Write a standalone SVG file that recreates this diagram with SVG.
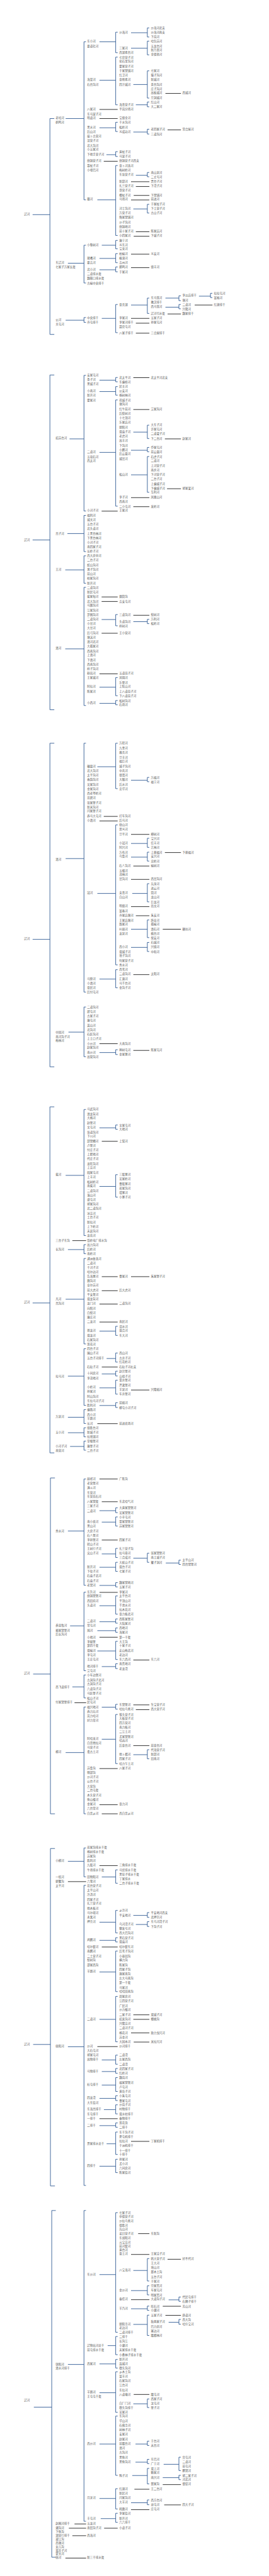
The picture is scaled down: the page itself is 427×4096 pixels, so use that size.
<svg xmlns="http://www.w3.org/2000/svg" width="427" height="4096" viewBox="0 0 427 4096">
<style>
text{font-family:"Noto Sans CJK SC","Noto Sans CJK JP",sans-serif;font-size:5.3px;fill:#555}
.b{stroke:#24508c;stroke-width:1;fill:none}
.k{stroke:#111;stroke-width:1;fill:none}
</style>
<rect width="427" height="4096" fill="#fff"/>
<g transform="scale(0.849)">
<g id="connectors">
<path class="b" d="M61 402H93.3M101.5 222H93.3V626.3H101.5M122.7 222H157M127 493H157M122.7 599.7H157M160.7 78.3H157V374.3H160.7M186 78.3H216.3M186 150.3H216.3M186 239.3H216.3M199 289.7H216.3M182 374.3H216.3M220 60.3H216.3V98.7H220M220 107H216.3V196.3H220M220 229H216.3V246.3H220M220 284H216.3V293H220M220 310H216.3V441H220M245 61.3H275.5M245 90.3H275.5M249.3 158.3H275.5M254 196.3H275.5M249.3 247.3H275.5M254 328.3H275.5M249.3 391.3H275.5M279 52.3H275.5V69.3H279M279 77H275.5V102.7H279M279 132.7H275.5V183.7H279M279 191H275.5V200H279M279 242H275.5V251H279M279 323H275.5V331H279M279 382.7H275.5V399H279M160.7 459.3H157V530H160.7M190.3 459.3H216.3M186 484H216.3M186 505.3H216.3M220 450.3H216.3V466H220M220 475H216.3V492H220M220 500H216.3V509H220M160.7 594.7H157V603.7H160.7M190.3 596.3H216.3M220 570.3H216.3V623H220M245 571.3H275.5M279 558.3H275.5V587H279M309.3 558.3H334.5M309.3 575.3H334.5M338 554H334.5V563H338M372 554.7H393.5M338 570.3H334.5V578.3H338M397 549.3H393.5V557.3H397"/>
<path class="k" d="M186 205H220M186 222H220M194 302H220M245 340.3H279.3M254 349.3H279.3M250 366H279.3M245 374.5H279.3M254 434H279.3M250 442.5H279.3M309.3 175H338.3M313.3 243.3H338.3M245 476H279.3M245 501.3H279.3M245 596.3H279.3M254 605.3H279.3M254 624H279.3M313.3 588H338.3M364 571.3H397.3"/>
<path class="b" d="M61 1011.3H93.3M101.5 702.3H93.3V1329.3H101.5M130 822H157M126 999.3H157M122 1067.3H157M122 1215.3H157M160.7 703H157V957H160.7M160.7 965.3H157V1033H160.7M160.7 1041H157V1092.3H160.7M160.7 1100H157V1321.3H160.7M186 712H216.3M186 733.3H216.3M186 847.3H216.3M190 1160.3H216.3M186 1287H216.3M186 1317.3H216.3M220 707H216.3V715H220M220 724H216.3V740H220M220 749H216.3V948H220M220 1151H216.3V1172H220M220 1269H216.3V1303H220M220 1312H216.3V1320H220M249.3 809.3H275.5M245 843.3H275.5M245 889.3H275.5M249.3 1164.3H275.5M279 796.3H275.5V821.3H279M279 838H275.5V846H279M279 855H275.5V922H279M279 1160H275.5V1168H279"/>
<path class="k" d="M190 957.3H220M190 1118H220M190 1126.5H220M190 1186H220M186 1262H220M249.3 707.3H279.3M249.3 767H279.3M245 932H279.3M249.3 949H279.3M249.3 1152.3H279.3M308.3 822H338.3M312.3 915.3H338.3"/>
<path class="b" d="M61 1759.3H93.3M101.5 1392H93.3V1998H101.5M122.7 1608H157M128 1933H157M160.7 1392H157V1858H160.7M160.7 1886H157V1979H160.7M182 1436H216.3M182 1673.3H216.3M186 1833.7H216.3M186 1971.3H216.3M220 1392H216.3V1477H220M220 1545H216.3V1807H220M220 1816H216.3V1850H220M220 1966H216.3V1975H220M245 1461.3H275.5M245 1579.7H275.5M245 1605.3H275.5M247.3 1673.3H275.5M245 1740.3H275.5M245 1774.3H275.5M279 1456H275.5V1464H279M279 1570H275.5V1587H279M279 1596H275.5V1612.7H279M279 1655H275.5V1689H279M279 1723H275.5V1756H279M279 1765H275.5V1782H279"/>
<path class="k" d="M194 1529H220M186 1537.5H220M186 1954.7H220M245 1562.7H279.3M249.3 1622H279.3M245 1647H279.3M245 1698H279.3M254 1715H279.3M249.3 1825.3H279.3M249.3 1967.3H279.3M308.3 1596.7H338.3M304.3 1740.3H338.3"/>
<path class="b" d="M61 2440.3H93.3M101.5 2073H93.3V2721H101.5M122.7 2201.3H157M127 2340.3H157M122.7 2433.3H157M127 2577.3H157M127 2654.3H157M127 2683.3H157M131 2709H157M160.7 2078H157V2314H160.7M160.7 2331H157V2348H160.7M160.7 2357H157V2517H160.7M160.7 2526H157V2632H160.7M160.7 2640H157V2666H160.7M160.7 2674H157V2691H160.7M160.7 2699H157V2716H160.7M186 2112.3H216.3M186 2222H216.3M186 2493H216.3M199.3 2544.3H216.3M190.3 2573.3H216.3M186 2599.3H216.3M186 2632.3H216.3M220 2107H216.3V2115H220M220 2200H216.3V2242H220M220 2484H216.3V2501H220M220 2534H216.3V2551H220M220 2568H216.3V2577H220M220 2585H216.3V2611H220M220 2627H216.3V2636H220"/>
<path class="k" d="M135.3 2323.5H161M190.3 2137.5H220M190.3 2391H220M190.3 2417.3H220M186 2442.3H220M186 2476H220M190.3 2560.3H220M182 2666.3H220M245 2391H279.3M245 2603.3H279.3"/>
<path class="b" d="M62 3135.3H94.3M102.7 2768H94.3V3397H102.7M127 2867.3H157M131 3045H157M135.3 3159.3H157M122.7 3282.3H157M160.7 2770H157V2969H160.7M160.7 2982H157V3129H160.7M160.7 3137H157V3180H160.7M160.7 3197H157V3397H160.7M186 2829.3H216.3M190.3 2850.7H216.3M190.3 2910.3H216.3M186 2935.3H216.3M186 2969.3H216.3M186 3007.3H216.3M186 3037.3H216.3M182 3054H216.3M182 3092H216.3M190.3 3121.3H216.3M190.3 3197.3H216.3M190.3 3257.3H216.3M220 2824H216.3V2833H220M220 2841H216.3V2858H220M220 2900H216.3V2917H220M220 2926H216.3V2943H220M220 2964H216.3V2972H220M220 2989H216.3V3023H220M220 3032H216.3V3040H220M220 3049H216.3V3057H220M220 3074H216.3V3108H220M220 3116H216.3V3125H220M220 3192H216.3V3201H220M220 3211H216.3V3303H220M249.3 2918.3H275.5M249.3 3286.3H275.5M279 2909H275.5V2926H279M279 3277H275.5V3294H279M310 2927.3H334.5M338 2922H334.5V2930H338"/>
<path class="k" d="M139.3 3189H161M186 2770H220M190.3 2812.5H220M190.3 2884.3H220M186 2982.3H220M186 3066.3H220M186 3312.3H220M186 3380H220M190.3 3397H220M249.3 3109H279.3M249.3 3193H279.3M254 3202H279.3M249.3 3269.3H279.3"/>
<path class="b" d="M62 3829H94.3M102.7 3462H94.3V4094H102.7M127 3486H157M127 3833.3H157M160.7 3461H157V3515H160.7M160.7 3531H157V4093H160.7M190.3 3515.3H216.3M186 3600H216.3M186 3634H216.3M186 3693.3H216.3M186 3782H216.3M190.3 3858H216.3M190.3 3879.7H216.3M190.3 3905H216.3M186 3930H216.3M194.3 3951H216.3M186 3981H216.3M199.3 4015H216.3M186 4057H216.3M220 3502H216.3V3527H220M220 3578H216.3V3620H220M220 3629H216.3V3637H220M220 3654H216.3V3730H220M220 3739H216.3V3824H220M220 3849H216.3V3866H220M220 3874H216.3V3883H220M220 3891H216.3V3917H220M220 3925H216.3V3934H220M220 3942H216.3V3959H220M220 3976H216.3V3984H220M220 3993H216.3V4035H220M220 4044H216.3V4069H220M249.3 3587.3H275.5M254 3604.3H275.5M279 3582H275.5V3591H279M279 3599H275.5V3608H279"/>
<path class="k" d="M127 3524H161M186 3494H220M190.3 3646.5H220M182 3833H220M186 3968H220M249.3 3773.5H279.3M249.3 3782H279.3M245 3807.3H279.3M250 3824.5H279.3M245 4010.5H279.3"/>
<path class="b" d="M63.3 4508.3H96.7M104.3 4140H96.7V4789.3H104.3M127 4428.3H157M160.7 4140H157V4722H160.7M186 4260H216.3M201.3 4393H216.3M186 4427.3H216.3M186 4481.3H216.3M186 4577.3H216.3M186 4679.3H216.3M188.3 4717H216.3M220 4144H216.3V4368H220M220 4376H216.3V4410H220M220 4419H216.3V4435H220M220 4442H216.3V4518H220M220 4525H216.3V4636H220M220 4661H216.3V4699H220M220 4707H216.3V4724H220M249.3 4252.3H275.5M245 4290H275.5M245 4324H275.5M249.3 4353.3H275.5M249.3 4502H275.5M253.3 4577.3H275.5M253.3 4611.3H275.5M247.3 4636.3H275.5M245 4687.3H275.5M279 4230H275.5V4272H279M279 4281H275.5V4298H279M279 4319H275.5V4327H279M279 4336H275.5V4374H279M279 4493H275.5V4509H279M279 4572H275.5V4580H279M279 4606H275.5V4614H279M279 4623H275.5V4652H279M279 4682H275.5V4691H279M315.3 4307.3H334.5M315.3 4349.3H334.5M306 4615.3H334.5M304.3 4640.3H334.5M338 4302H334.5V4310H338M338 4344H334.5V4353H338M338 4602H334.5V4627H338M338 4636H334.5V4644H338"/>
<path class="k" d="M139.3 4727H161M128.7 4735H161M194.7 4735H220M135.3 4749H161M122.3 4791H161M258.3 4183.3H279.3M245 4222.3H279.3M245 4307H279.3M250 4484.5H279.3M251.3 4662H279.3M245 4700.3H279.3M313.3 4231.3H338.3M304.3 4319.3H338.3M309.3 4336.3H338.3M304.3 4653.3H338.3M307 4691.3H338.3"/>
</g>
<g id="nodes">
<g id="t0_403"><text x="45" y="403">辽河</text></g>
<g id="t1_223"><text x="104" y="223">老哈河</text></g>
<g id="t1_231"><text x="104" y="231">鹤鸣河</text></g>
<g id="t1_494"><text x="104" y="494">东辽河</text></g>
<g id="t1_502"><text x="104" y="502">七家子万家长渠</text></g>
<g id="t1_601"><text x="104" y="601">公河</text></g>
<g id="t1_609"><text x="104" y="609">关屯河</text></g>
<g id="t2_79"><text x="163" y="79.3">东小河</text></g>
<g id="t2_88"><text x="163" y="88">要道社河</text></g>
<g id="t2_151"><text x="163" y="151">海棠河</text></g>
<g id="t2_160"><text x="163" y="160">石台沟河</text></g>
<g id="t2_206"><text x="163" y="206">八家河</text></g>
<g id="t2_215"><text x="163" y="215">东马架子河</text></g>
<g id="t2_223"><text x="163" y="223">明道河</text></g>
<g id="t2_240"><text x="163" y="240">黑水河</text></g>
<g id="t2_248"><text x="163" y="248">后山河</text></g>
<g id="t2_257"><text x="163" y="257">接卜古营河</text></g>
<g id="t2_265"><text x="163" y="265">深营子河</text></g>
<g id="t2_274"><text x="163" y="274">北大沟河</text></g>
<g id="t2_282"><text x="163" y="282">小五家河</text></g>
<g id="t2_291"><text x="163" y="291">下地手营子河</text></g>
<g id="t2_303"><text x="163" y="303">烧锅营子河</text></g>
<g id="t2_312"><text x="163" y="312">靠杖子河</text></g>
<g id="t2_320"><text x="163" y="320">小哑巴河</text></g>
<g id="t2_375"><text x="163" y="375">瓣河</text></g>
<g id="t2_460"><text x="163" y="460">小黎树河</text></g>
<g id="t2_485"><text x="163" y="485">猪嘴河</text></g>
<g id="t2_494"><text x="163" y="494">要吉河</text></g>
<g id="t2_507"><text x="163" y="507">北小河</text></g>
<g id="t2_515"><text x="163" y="515">二道排水渠</text></g>
<g id="t2_523"><text x="163" y="523">魏鞍口排水渠</text></g>
<g id="t2_532"><text x="163" y="532">古榆中央排干</text></g>
<g id="t2_597"><text x="163" y="596.7">中央排干</text></g>
<g id="t2_606"><text x="163" y="605.7">齐屯排干</text></g>
<g id="t3_62"><text x="223" y="62.3">沙海河</text></g>
<g id="t3_92"><text x="223" y="92">三家河</text></g>
<g id="t3_100"><text x="223" y="100">西湖素台河</text></g>
<g id="t3_109"><text x="223" y="109">七官营子河</text></g>
<g id="t3_117"><text x="223" y="117">化石里沟河</text></g>
<g id="t3_126"><text x="223" y="126">霍家营子河</text></g>
<g id="t3_134"><text x="223" y="134">于家窝铺河</text></g>
<g id="t3_143"><text x="223" y="142.7">红卫河</text></g>
<g id="t3_151"><text x="223" y="151">查他素河</text></g>
<g id="t3_160"><text x="223" y="160">四汗城河</text></g>
<g id="t3_198"><text x="223" y="198">海青营子河</text></g>
<g id="t3_206"><text x="223" y="206">平岗分场河</text></g>
<g id="t3_223"><text x="223" y="223">宝德全河</text></g>
<g id="t3_231"><text x="223" y="231">干水沟河</text></g>
<g id="t3_240"><text x="223" y="240">松岭河</text></g>
<g id="t3_248"><text x="223" y="248">义成功河</text></g>
<g id="t3_286"><text x="223" y="286">黄杖子河</text></g>
<g id="t3_295"><text x="223" y="295">马架子河</text></g>
<g id="t3_303"><text x="223" y="303">烧锅营子河西支</text></g>
<g id="t3_312"><text x="223" y="312">查卜河洛河</text></g>
<g id="t3_320"><text x="223" y="320">梅树岭河</text></g>
<g id="t3_329"><text x="223" y="329">东张营子河</text></g>
<g id="t3_342"><text x="223" y="342">新邱河</text></g>
<g id="t3_350"><text x="223" y="350">扎兰营子河</text></g>
<g id="t3_358"><text x="223" y="358">哥营子河</text></g>
<g id="t3_367"><text x="223" y="367">樱杖子河</text></g>
<g id="t3_375"><text x="223" y="375">马场河</text></g>
<g id="t3_392"><text x="223" y="392">河士沟河</text></g>
<g id="t3_401"><text x="223" y="401">万营子河</text></g>
<g id="t3_409"><text x="223" y="409">隋家窝铺河</text></g>
<g id="t3_418"><text x="223" y="418">沙子沟河</text></g>
<g id="t3_426"><text x="223" y="426">烧锅地河</text></g>
<g id="t3_435"><text x="223" y="435">前十家子河</text></g>
<g id="t3_443"><text x="223" y="443">小四家河</text></g>
<g id="t3_452"><text x="223" y="452.3">康宁河</text></g>
<g id="t3_460"><text x="223" y="460">义东河</text></g>
<g id="t3_468"><text x="223" y="468">宝来河</text></g>
<g id="t3_477"><text x="223" y="477">柏榆河</text></g>
<g id="t3_485"><text x="223" y="485">植漠河</text></g>
<g id="t3_494"><text x="223" y="494">吉州河</text></g>
<g id="t3_502"><text x="223" y="502">鹅鸣河</text></g>
<g id="t3_511"><text x="223" y="511">于家河</text></g>
<g id="t3_572"><text x="223" y="572.3">亚克湖</text></g>
<g id="t3_597"><text x="223" y="597.3">李家河</text></g>
<g id="t3_606"><text x="223" y="606">李家河排干</text></g>
<g id="t3_614"><text x="223" y="614">聂官屯河</text></g>
<g id="t3_625"><text x="223" y="625">八家子排干</text></g>
<g id="t4_54"><text x="282" y="54.3">沙海河北支</text></g>
<g id="t4_62"><text x="282" y="62.3">沙海河南支</text></g>
<g id="t4_71"><text x="282" y="71">下岗河</text></g>
<g id="t4_79"><text x="282" y="79">哈包苏河</text></g>
<g id="t4_88"><text x="282" y="88">五龙台河</text></g>
<g id="t4_96"><text x="282" y="96">新乃里河</text></g>
<g id="t4_104"><text x="282" y="104">全德艳河</text></g>
<g id="t4_134"><text x="282" y="134">七家河</text></g>
<g id="t4_143"><text x="282" y="143">猫子沟河</text></g>
<g id="t4_151"><text x="282" y="151">新城河</text></g>
<g id="t4_160"><text x="282" y="160">茶台沟河</text></g>
<g id="t4_168"><text x="282" y="168">庄子沟河</text></g>
<g id="t4_176"><text x="282" y="176">高板城河</text></g>
<g id="t4_185"><text x="282" y="185">旦洞城河</text></g>
<g id="t4_193"><text x="282" y="193">红山河</text></g>
<g id="t4_202"><text x="282" y="202">大二家河</text></g>
<g id="t4_244"><text x="282" y="244">老四家子河</text></g>
<g id="t4_253"><text x="282" y="253">三道沟河</text></g>
<g id="t4_325"><text x="282" y="325">南山泉河</text></g>
<g id="t4_333"><text x="282" y="333">二丈号河</text></g>
<g id="t4_342"><text x="282" y="342">贾台子河</text></g>
<g id="t4_350"><text x="282" y="350">下湾子河</text></g>
<g id="t4_367"><text x="282" y="367">下窝铺河</text></g>
<g id="t4_375"><text x="282" y="375">前进河</text></g>
<g id="t4_384"><text x="282" y="384">于家杖子河</text></g>
<g id="t4_392"><text x="282" y="392">下土营子河</text></g>
<g id="t4_401"><text x="282" y="401">古山子河</text></g>
<g id="t4_435"><text x="282" y="435">陈家店河</text></g>
<g id="t4_443"><text x="282" y="443">下城子河</text></g>
<g id="t4_477"><text x="282" y="477">义安河</text></g>
<g id="t4_502"><text x="282" y="502">德丰河</text></g>
<g id="t4_559"><text x="282" y="559.3">东马莲河</text></g>
<g id="t4_568"><text x="282" y="568">教汉排干</text></g>
<g id="t4_576"><text x="282" y="576">西马莲河</text></g>
<g id="t4_589"><text x="282" y="589">辽河引水渠</text></g>
<g id="t4_597"><text x="282" y="597.3">五家子河</text></g>
<g id="t4_606"><text x="282" y="606">孙家屯河</text></g>
<g id="t4_625"><text x="282" y="625">三合屋排干</text></g>
<g id="t5_176"><text x="341" y="176">西城河</text></g>
<g id="t5_244"><text x="341" y="244">常合屋河</text></g>
<g id="t5_555"><text x="341" y="555">李瓜店排干</text></g>
<g id="t5_564"><text x="341" y="564.3">塘河</text></g>
<g id="t5_572"><text x="341" y="572.3">二道河</text></g>
<g id="t5_580"><text x="341" y="580.3">兴隆河</text></g>
<g id="t5_589"><text x="341" y="589">魏家排干</text></g>
<g id="t6_551"><text x="400" y="551.3">拉拉屯河</text></g>
<g id="t6_559"><text x="400" y="559.3">富裕河</text></g>
<g id="t6_572"><text x="400" y="572.3">红旗排干</text></g>

<g id="t0_1013"><text x="45" y="1013">辽河</text></g>
<g id="t1_822"><text x="104" y="822">招苏台河</text></g>
<g id="t1_1001"><text x="104" y="1001">亮子河</text></g>
<g id="t1_1068"><text x="104" y="1068">王河</text></g>
<g id="t1_1216"><text x="104" y="1216">清河</text></g>
<g id="t2_704"><text x="163" y="704">安家屯河</text></g>
<g id="t2_713"><text x="163" y="713">条子河</text></g>
<g id="t2_721"><text x="163" y="721">黑城子河</text></g>
<g id="t2_734"><text x="163" y="734">小南河</text></g>
<g id="t2_742"><text x="163" y="742">新开河</text></g>
<g id="t2_751"><text x="163" y="751">霍家河</text></g>
<g id="t2_848"><text x="163" y="848">二道河</text></g>
<g id="t2_857"><text x="163" y="857">五块石河</text></g>
<g id="t2_865"><text x="163" y="865">西太河</text></g>
<g id="t2_958"><text x="163" y="958">小河子河</text></g>
<g id="t2_967"><text x="163" y="967">福利河</text></g>
<g id="t2_975"><text x="163" y="975">城关河</text></g>
<g id="t2_984"><text x="163" y="984">五台子河</text></g>
<g id="t2_992"><text x="163" y="992">北头道河</text></g>
<g id="t2_1001"><text x="163" y="1001">上黑台林河</text></g>
<g id="t2_1009"><text x="163" y="1009">下黑台林河</text></g>
<g id="t2_1018"><text x="163" y="1018">小河子河</text></g>
<g id="t2_1026"><text x="163" y="1026">南四家子河</text></g>
<g id="t2_1034"><text x="163" y="1034">长岭子河</text></g>
<g id="t2_1043"><text x="163" y="1043">西大房申河</text></g>
<g id="t2_1051"><text x="163" y="1051">二台子河</text></g>
<g id="t2_1060"><text x="163" y="1060">蛇山沟河</text></g>
<g id="t2_1068"><text x="163" y="1068">葱子沟河</text></g>
<g id="t2_1077"><text x="163" y="1077">前山河</text></g>
<g id="t2_1085"><text x="163" y="1085">柏家沟河</text></g>
<g id="t2_1094"><text x="163" y="1094">新开河</text></g>
<g id="t2_1102"><text x="163" y="1102">二道沟河</text></g>
<g id="t2_1111"><text x="163" y="1111">新民屯河</text></g>
<g id="t2_1119"><text x="163" y="1119">柴家甸河</text></g>
<g id="t2_1128"><text x="163" y="1128">北大沟河</text></g>
<g id="t2_1136"><text x="163" y="1136">马鹿沟河</text></g>
<g id="t2_1145"><text x="163" y="1145">江家沟河</text></g>
<g id="t2_1153"><text x="163" y="1153">罗圈沟河</text></g>
<g id="t2_1161"><text x="163" y="1161">二道沟河</text></g>
<g id="t2_1170"><text x="163" y="1170">小甘河</text></g>
<g id="t2_1178"><text x="163" y="1178">大甘河</text></g>
<g id="t2_1187"><text x="163" y="1187">后弓沟河</text></g>
<g id="t2_1195"><text x="163" y="1195">塘沃河</text></g>
<g id="t2_1204"><text x="163" y="1204">清河北河</text></g>
<g id="t2_1212"><text x="163" y="1212">大孤家河</text></g>
<g id="t2_1221"><text x="163" y="1221">西南沟河</text></g>
<g id="t2_1229"><text x="163" y="1229">上清河</text></g>
<g id="t2_1238"><text x="163" y="1238">下清河</text></g>
<g id="t2_1246"><text x="163" y="1246">西南沟河</text></g>
<g id="t2_1255"><text x="163" y="1255">样子沟河</text></g>
<g id="t2_1263"><text x="163" y="1263">粉岗河</text></g>
<g id="t2_1271"><text x="163" y="1271">王家城河</text></g>
<g id="t2_1288"><text x="163" y="1288">阿拉河</text></g>
<g id="t2_1297"><text x="163" y="1297">陈家河</text></g>
<g id="t2_1318"><text x="163" y="1318">小西河</text></g>
<g id="t3_709"><text x="223" y="709">北太平河</text></g>
<g id="t3_717"><text x="223" y="717">东偏桥河</text></g>
<g id="t3_726"><text x="223" y="726">民主河</text></g>
<g id="t3_734"><text x="223" y="734">公安河</text></g>
<g id="t3_742"><text x="223" y="742">杨树林河</text></g>
<g id="t3_751"><text x="223" y="751">荷城子河</text></g>
<g id="t3_759"><text x="223" y="759">塘沟河</text></g>
<g id="t3_768"><text x="223" y="768">红牛前河</text></g>
<g id="t3_776"><text x="223" y="776">后梨树河</text></g>
<g id="t3_785"><text x="223" y="785">十七顶河</text></g>
<g id="t3_793"><text x="223" y="793">乐家店河</text></g>
<g id="t3_802"><text x="223" y="802">朝阳河</text></g>
<g id="t3_810"><text x="223" y="810">双庙子河</text></g>
<g id="t3_819"><text x="223" y="819">老虎河</text></g>
<g id="t3_827"><text x="223" y="827">高丰河</text></g>
<g id="t3_836"><text x="223" y="836">下沟河</text></g>
<g id="t3_844"><text x="223" y="844">小鹏河</text></g>
<g id="t3_852"><text x="223" y="852">后云盘河</text></g>
<g id="t3_861"><text x="223" y="861">城岔河</text></g>
<g id="t3_891"><text x="223" y="891">松山河</text></g>
<g id="t3_933"><text x="223" y="933">李子河</text></g>
<g id="t3_941"><text x="223" y="941">西南河</text></g>
<g id="t3_950"><text x="223" y="950">二小屯河</text></g>
<g id="t3_958"><text x="223" y="958">王家河</text></g>
<g id="t3_1119"><text x="223" y="1119">烟筒沟</text></g>
<g id="t3_1128"><text x="223" y="1128">吉安屯河</text></g>
<g id="t3_1153"><text x="223" y="1153">三道沟河</text></g>
<g id="t3_1166"><text x="223" y="1166">头道沟河</text></g>
<g id="t3_1174"><text x="223" y="1174">样树河</text></g>
<g id="t3_1187"><text x="223" y="1187">王小营河</text></g>
<g id="t3_1263"><text x="223" y="1263">五道岗子河</text></g>
<g id="t3_1271"><text x="223" y="1271">凤翔河</text></g>
<g id="t3_1280"><text x="223" y="1280">乐堡河</text></g>
<g id="t3_1288"><text x="223" y="1288">上陀山河</text></g>
<g id="t3_1297"><text x="223" y="1297">上八道岗子河</text></g>
<g id="t3_1305"><text x="223" y="1305">下八道岗子河</text></g>
<g id="t3_1314"><text x="223" y="1314">松树沟河</text></g>
<g id="t3_1322"><text x="223" y="1322">石场河</text></g>
<g id="t4_709"><text x="282" y="709">北太平河北支</text></g>
<g id="t4_768"><text x="282" y="768">艾家沟河</text></g>
<g id="t4_797"><text x="282" y="797">大东子河</text></g>
<g id="t4_806"><text x="282" y="806">许家屯河</text></g>
<g id="t4_814"><text x="282" y="814">二道梁子河</text></g>
<g id="t4_823"><text x="282" y="823">下二台河</text></g>
<g id="t4_840"><text x="282" y="840">乔家屯河</text></g>
<g id="t4_848"><text x="282" y="848">前云盘河</text></g>
<g id="t4_857"><text x="282" y="857">石虎子河</text></g>
<g id="t4_865"><text x="282" y="865">二道河</text></g>
<g id="t4_874"><text x="282" y="874">上河营子河</text></g>
<g id="t4_882"><text x="282" y="882">南步河</text></g>
<g id="t4_891"><text x="282" y="891">下河营子河</text></g>
<g id="t4_899"><text x="282" y="899">二台子河</text></g>
<g id="t4_908"><text x="282" y="908">上偏城子河</text></g>
<g id="t4_916"><text x="282" y="916">下偏城子河</text></g>
<g id="t4_924"><text x="282" y="924">互利河</text></g>
<g id="t4_933"><text x="282" y="933">凤凰山河</text></g>
<g id="t4_950"><text x="282" y="950">发岭河</text></g>
<g id="t4_1153"><text x="282" y="1153">梨树河</text></g>
<g id="t4_1161"><text x="282" y="1161">万利河</text></g>
<g id="t4_1170"><text x="282" y="1170">松岭河</text></g>
<g id="t5_823"><text x="341" y="823">赵家河</text></g>
<g id="t5_916"><text x="341" y="916">郭家梁河</text></g>

<g id="t0_1760"><text x="45" y="1760">辽河</text></g>
<g id="t1_1611"><text x="104" y="1611">清河</text></g>
<g id="t1_1935"><text x="104" y="1935">中固河</text></g>
<g id="t1_1943"><text x="104" y="1943">南河沟子河</text></g>
<g id="t1_1951"><text x="104" y="1951">梅林河</text></g>
<g id="t2_1437"><text x="163" y="1437">碾盘河</text></g>
<g id="t2_1445"><text x="163" y="1445">北大沟河</text></g>
<g id="t2_1454"><text x="163" y="1454">太平沟河</text></g>
<g id="t2_1462"><text x="163" y="1462">春韵沟河</text></g>
<g id="t2_1471"><text x="163" y="1471">吴家沟河</text></g>
<g id="t2_1479"><text x="163" y="1479">金家沟河</text></g>
<g id="t2_1488"><text x="163" y="1488">西老爷岭河</text></g>
<g id="t2_1496"><text x="163" y="1496">苔碧河</text></g>
<g id="t2_1505"><text x="163" y="1505">张家堡子河</text></g>
<g id="t2_1513"><text x="163" y="1513">新米沟河</text></g>
<g id="t2_1521"><text x="163" y="1521">闫家堡子河</text></g>
<g id="t2_1530"><text x="163" y="1530">养马大屯河</text></g>
<g id="t2_1538"><text x="163" y="1538">小清河</text></g>
<g id="t2_1674"><text x="163" y="1674">寇河</text></g>
<g id="t2_1835"><text x="163" y="1835">马脖河</text></g>
<g id="t2_1843"><text x="163" y="1843">小清河</text></g>
<g id="t2_1852"><text x="163" y="1852">亚民河</text></g>
<g id="t2_1860"><text x="163" y="1860">后付屯河</text></g>
<g id="t2_1888"><text x="163" y="1888">二道沟河</text></g>
<g id="t2_1896"><text x="163" y="1896">郎屯河</text></g>
<g id="t2_1905"><text x="163" y="1905">古家子河</text></g>
<g id="t2_1913"><text x="163" y="1913">康屯河</text></g>
<g id="t2_1922"><text x="163" y="1922">英山河</text></g>
<g id="t2_1930"><text x="163" y="1930">北沟河</text></g>
<g id="t2_1939"><text x="163" y="1939">石匠沟河</text></g>
<g id="t2_1947"><text x="163" y="1947">上土口子河</text></g>
<g id="t2_1956"><text x="163" y="1956">小沙河</text></g>
<g id="t2_1964"><text x="163" y="1964">赵家沟河</text></g>
<g id="t2_1973"><text x="163" y="1973">南沙河</text></g>
<g id="t2_1981"><text x="163" y="1981">高管沟河</text></g>
<g id="t3_1394"><text x="223" y="1394">万积河</text></g>
<g id="t3_1403"><text x="223" y="1403">九奎河</text></g>
<g id="t3_1411"><text x="223" y="1411">雅克河</text></g>
<g id="t3_1420"><text x="223" y="1420">旦丰河</text></g>
<g id="t3_1428"><text x="223" y="1428">福巨河</text></g>
<g id="t3_1437"><text x="223" y="1437">城子沟河</text></g>
<g id="t3_1445"><text x="223" y="1445">中宾河</text></g>
<g id="t3_1454"><text x="223" y="1454">德贤河</text></g>
<g id="t3_1462"><text x="223" y="1462">大眼河</text></g>
<g id="t3_1471"><text x="223" y="1471">后水河</text></g>
<g id="t3_1479"><text x="223" y="1479">忠华河</text></g>
<g id="t3_1530"><text x="223" y="1530">打车沟河</text></g>
<g id="t3_1538"><text x="223" y="1538">后马河</text></g>
<g id="t3_1547"><text x="223" y="1547">绕山河</text></g>
<g id="t3_1555"><text x="223" y="1555">思义河</text></g>
<g id="t3_1564"><text x="223" y="1564">旦平河</text></g>
<g id="t3_1581"><text x="223" y="1581">小寇河</text></g>
<g id="t3_1589"><text x="223" y="1589">阿兴河</text></g>
<g id="t3_1598"><text x="223" y="1598">万有河</text></g>
<g id="t3_1606"><text x="223" y="1606">乌鲁河</text></g>
<g id="t3_1623"><text x="223" y="1623">石人沟河</text></g>
<g id="t3_1632"><text x="223" y="1632">五楼河</text></g>
<g id="t3_1640"><text x="223" y="1640">茂林河</text></g>
<g id="t3_1648"><text x="223" y="1648">岔沟河</text></g>
<g id="t3_1674"><text x="223" y="1674">支青河</text></g>
<g id="t3_1682"><text x="223" y="1682">白山河</text></g>
<g id="t3_1699"><text x="223" y="1699">明德河</text></g>
<g id="t3_1708"><text x="223" y="1708">富春河</text></g>
<g id="t3_1716"><text x="223" y="1716">齐家店塘河</text></g>
<g id="t3_1725"><text x="223" y="1725">王家店塘河</text></g>
<g id="t3_1733"><text x="223" y="1733">路家河</text></g>
<g id="t3_1742"><text x="223" y="1742">叶赫河</text></g>
<g id="t3_1750"><text x="223" y="1750">龙泉河</text></g>
<g id="t3_1775"><text x="223" y="1775">西小河</text></g>
<g id="t3_1784"><text x="223" y="1784">双城子河</text></g>
<g id="t3_1792"><text x="223" y="1792">塔子沟河</text></g>
<g id="t3_1801"><text x="223" y="1801">何家营子河</text></g>
<g id="t3_1809"><text x="223" y="1809">秀水河</text></g>
<g id="t3_1818"><text x="223" y="1818">西苇河</text></g>
<g id="t3_1826"><text x="223" y="1826">二道沟河</text></g>
<g id="t3_1835"><text x="223" y="1835">汇源河</text></g>
<g id="t3_1843"><text x="223" y="1843">马千台河</text></g>
<g id="t3_1852"><text x="223" y="1852">金沟子河</text></g>
<g id="t3_1956"><text x="223" y="1956">大南沟河</text></g>
<g id="t3_1968"><text x="223" y="1968">神树屯河</text></g>
<g id="t3_1977"><text x="223" y="1977">金家寨河</text></g>
<g id="t4_1458"><text x="282" y="1458">万福河</text></g>
<g id="t4_1466"><text x="282" y="1466">福宁河</text></g>
<g id="t4_1564"><text x="282" y="1564">柳树河</text></g>
<g id="t4_1572"><text x="282" y="1572">宝兴河</text></g>
<g id="t4_1581"><text x="282" y="1581">信丰河</text></g>
<g id="t4_1589"><text x="282" y="1589">艺林河</text></g>
<g id="t4_1598"><text x="282" y="1598">上册福河</text></g>
<g id="t4_1606"><text x="282" y="1606">安兴河</text></g>
<g id="t4_1615"><text x="282" y="1615">忠岭河</text></g>
<g id="t4_1623"><text x="282" y="1623">榆树河</text></g>
<g id="t4_1648"><text x="282" y="1648">西岔沟河</text></g>
<g id="t4_1657"><text x="282" y="1657">兵身河</text></g>
<g id="t4_1665"><text x="282" y="1665">进云河</text></g>
<g id="t4_1674"><text x="282" y="1674">筒河</text></g>
<g id="t4_1682"><text x="282" y="1682">龙山河</text></g>
<g id="t4_1691"><text x="282" y="1691">巨龙河</text></g>
<g id="t4_1699"><text x="282" y="1699">尚文河</text></g>
<g id="t4_1716"><text x="282" y="1716">朱安河</text></g>
<g id="t4_1725"><text x="282" y="1725">跃业河</text></g>
<g id="t4_1733"><text x="282" y="1733">孤榆河</text></g>
<g id="t4_1742"><text x="282" y="1742">清石河</text></g>
<g id="t4_1750"><text x="282" y="1750">桃台河</text></g>
<g id="t4_1758"><text x="282" y="1758">保安河</text></g>
<g id="t4_1767"><text x="282" y="1767">石城河</text></g>
<g id="t4_1775"><text x="282" y="1775">兴德河</text></g>
<g id="t4_1784"><text x="282" y="1784">中和河</text></g>
<g id="t4_1826"><text x="282" y="1826">太阳河</text></g>
<g id="t4_1968"><text x="282" y="1968">陈家屯河</text></g>
<g id="t5_1598"><text x="341" y="1598">下册福河</text></g>
<g id="t5_1742"><text x="341" y="1742">糖坊河</text></g>

<g id="t0_2441"><text x="45" y="2441">辽河</text></g>
<g id="t1_2202"><text x="104" y="2202">柴河</text></g>
<g id="t1_2325"><text x="104" y="2325">三台子东沟</text></g>
<g id="t1_2342"><text x="104" y="2342">长沟河</text></g>
<g id="t1_2435"><text x="104" y="2435">凡河</text></g>
<g id="t1_2443"><text x="104" y="2443">亮沟河</text></g>
<g id="t1_2579"><text x="104" y="2579">拉马河</text></g>
<g id="t1_2655"><text x="104" y="2655">万泉河</text></g>
<g id="t1_2684"><text x="104" y="2684">五小河</text></g>
<g id="t1_2710"><text x="104" y="2710">小河子河</text></g>
<g id="t1_2718"><text x="104" y="2718">南营河</text></g>
<g id="t2_2079"><text x="163" y="2079">马武沟河</text></g>
<g id="t2_2088"><text x="163" y="2088">清龙背河</text></g>
<g id="t2_2096"><text x="163" y="2096">大杨河</text></g>
<g id="t2_2105"><text x="163" y="2105">赵堡河</text></g>
<g id="t2_2113"><text x="163" y="2113">文屯河</text></g>
<g id="t2_2122"><text x="163" y="2122">张道沟河</text></g>
<g id="t2_2130"><text x="163" y="2130">下川河</text></g>
<g id="t2_2139"><text x="163" y="2139">邱窝棚河</text></g>
<g id="t2_2147"><text x="163" y="2147">卢堡河</text></g>
<g id="t2_2155"><text x="163" y="2155">付庄子河</text></g>
<g id="t2_2164"><text x="163" y="2164">上肥地河</text></g>
<g id="t2_2172"><text x="163" y="2172">代庄子河</text></g>
<g id="t2_2181"><text x="163" y="2181">龙旺沟河</text></g>
<g id="t2_2189"><text x="163" y="2189">上洼河</text></g>
<g id="t2_2198"><text x="163" y="2198">阎家屯河</text></g>
<g id="t2_2206"><text x="163" y="2206">上丰河</text></g>
<g id="t2_2215"><text x="163" y="2215">松树岭河</text></g>
<g id="t2_2223"><text x="163" y="2223">南柴河</text></g>
<g id="t2_2232"><text x="163" y="2232">二道沟河</text></g>
<g id="t2_2240"><text x="163" y="2240">落山河</text></g>
<g id="t2_2249"><text x="163" y="2249">盛屯河</text></g>
<g id="t2_2257"><text x="163" y="2257">郭家沟河</text></g>
<g id="t2_2265"><text x="163" y="2265">北二道沟河</text></g>
<g id="t2_2274"><text x="163" y="2274">冰洼河</text></g>
<g id="t2_2282"><text x="163" y="2282">土台子河</text></g>
<g id="t2_2291"><text x="163" y="2291">新拉河</text></g>
<g id="t2_2299"><text x="163" y="2299">上下岭河</text></g>
<g id="t2_2308"><text x="163" y="2308">宋县沟河</text></g>
<g id="t2_2316"><text x="163" y="2316">龙花河</text></g>
<g id="t2_2325"><text x="163" y="2325">铁岭电厂排水沟</text></g>
<g id="t2_2333"><text x="163" y="2333">高力沟河</text></g>
<g id="t2_2342"><text x="163" y="2342">后岭河</text></g>
<g id="t2_2350"><text x="163" y="2350">南岭河</text></g>
<g id="t2_2359"><text x="163" y="2359">通洲依洛河</text></g>
<g id="t2_2367"><text x="163" y="2367">二道河</text></g>
<g id="t2_2376"><text x="163" y="2376">干河子河</text></g>
<g id="t2_2384"><text x="163" y="2384">哈尔边河</text></g>
<g id="t2_2392"><text x="163" y="2392">告海寨河</text></g>
<g id="t2_2401"><text x="163" y="2401">鹿沟河</text></g>
<g id="t2_2409"><text x="163" y="2409">业尔苏河</text></g>
<g id="t2_2418"><text x="163" y="2418">前大虎河</text></g>
<g id="t2_2426"><text x="163" y="2426">平安堡河</text></g>
<g id="t2_2435"><text x="163" y="2435">双龙背河</text></g>
<g id="t2_2443"><text x="163" y="2443">龙门河</text></g>
<g id="t2_2452"><text x="163" y="2452">向阳河</text></g>
<g id="t2_2460"><text x="163" y="2460">白梨河</text></g>
<g id="t2_2469"><text x="163" y="2469">康庄河</text></g>
<g id="t2_2477"><text x="163" y="2477">二龙河</text></g>
<g id="t2_2494"><text x="163" y="2494">恩龙河</text></g>
<g id="t2_2503"><text x="163" y="2503">双龙河</text></g>
<g id="t2_2511"><text x="163" y="2511">石家沟河</text></g>
<g id="t2_2519"><text x="163" y="2519">莲花河</text></g>
<g id="t2_2528"><text x="163" y="2528">四台子河</text></g>
<g id="t2_2536"><text x="163" y="2536">围山子河</text></g>
<g id="t2_2545"><text x="163" y="2545">五台子河排干</text></g>
<g id="t2_2562"><text x="163" y="2562">石砬子河</text></g>
<g id="t2_2574"><text x="163" y="2574">十间房河</text></g>
<g id="t2_2583"><text x="163" y="2583">李茂地河</text></g>
<g id="t2_2600"><text x="163" y="2600">小岭河</text></g>
<g id="t2_2608"><text x="163" y="2608">孙家河</text></g>
<g id="t2_2617"><text x="163" y="2617">阿山沟河</text></g>
<g id="t2_2625"><text x="163" y="2625">东拉马河子河</text></g>
<g id="t2_2634"><text x="163" y="2634">胜利河</text></g>
<g id="t2_2642"><text x="163" y="2642">偏路河</text></g>
<g id="t2_2651"><text x="163" y="2651">西小河</text></g>
<g id="t2_2659"><text x="163" y="2659">羊肠河</text></g>
<g id="t2_2668"><text x="163" y="2668">长河</text></g>
<g id="t2_2676"><text x="163" y="2676">德胜台河</text></g>
<g id="t2_2684"><text x="163" y="2684">新城子河</text></g>
<g id="t2_2693"><text x="163" y="2693">拉塔湖河</text></g>
<g id="t2_2701"><text x="163" y="2701">草根堡河</text></g>
<g id="t2_2710"><text x="163" y="2710">康堡子河</text></g>
<g id="t2_2718"><text x="163" y="2718">二台子河</text></g>
<g id="t3_2109"><text x="223" y="2109">文家屯河</text></g>
<g id="t3_2117"><text x="223" y="2117">大地河</text></g>
<g id="t3_2139"><text x="223" y="2139">上窑河</text></g>
<g id="t3_2202"><text x="223" y="2202">三股寨河</text></g>
<g id="t3_2210"><text x="223" y="2210">吴家岭河</text></g>
<g id="t3_2219"><text x="223" y="2219">曹股寨河</text></g>
<g id="t3_2227"><text x="223" y="2227">蒋家沟河</text></g>
<g id="t3_2236"><text x="223" y="2236">增寨河</text></g>
<g id="t3_2244"><text x="223" y="2244">小寨子河</text></g>
<g id="t3_2392"><text x="223" y="2392">曹家河</text></g>
<g id="t3_2418"><text x="223" y="2418">后大虎河</text></g>
<g id="t3_2443"><text x="223" y="2443">二道沟河</text></g>
<g id="t3_2477"><text x="223" y="2477">南民河</text></g>
<g id="t3_2486"><text x="223" y="2486">泪水河</text></g>
<g id="t3_2494"><text x="223" y="2494">双合河</text></g>
<g id="t3_2503"><text x="223" y="2503">东大河</text></g>
<g id="t3_2536"><text x="223" y="2536">西山河</text></g>
<g id="t3_2545"><text x="223" y="2545">古井子河</text></g>
<g id="t3_2553"><text x="223" y="2553">红花岭河</text></g>
<g id="t3_2562"><text x="223" y="2562">石砬子河右支</text></g>
<g id="t3_2570"><text x="223" y="2570">赵贝堡河</text></g>
<g id="t3_2579"><text x="223" y="2579">山咀子河</text></g>
<g id="t3_2587"><text x="223" y="2587">雷井堡河</text></g>
<g id="t3_2596"><text x="223" y="2596">芹菜堡河</text></g>
<g id="t3_2604"><text x="223" y="2604">羊泉河</text></g>
<g id="t3_2613"><text x="223" y="2613">车井堡河</text></g>
<g id="t3_2629"><text x="223" y="2629">前峪河</text></g>
<g id="t3_2638"><text x="223" y="2638">柳屯小河子河</text></g>
<g id="t3_2668"><text x="223" y="2668">前进农场河</text></g>
<g id="t4_2392"><text x="282" y="2392">朱家堡子河</text></g>
<g id="t4_2604"><text x="282" y="2604">兴隆峪河</text></g>

<g id="t0_3136"><text x="45" y="3136">辽河</text></g>
<g id="t1_2869"><text x="104" y="2869">秀水河</text></g>
<g id="t1_3046"><text x="104" y="3046">养息牧河</text></g>
<g id="t1_3055"><text x="104" y="3055">赖家窝堡河</text></g>
<g id="t1_3063"><text x="104" y="3063">后长沟河</text></g>
<g id="t1_3161"><text x="104" y="3161">西飞道排干</text></g>
<g id="t1_3190"><text x="104" y="3190">付家窝堡排干</text></g>
<g id="t1_3283"><text x="104" y="3283">柳河</text></g>
<g id="t2_2771"><text x="163" y="2771">赫祁河</text></g>
<g id="t2_2780"><text x="163" y="2780">老营堡河</text></g>
<g id="t2_2788"><text x="163" y="2788">满斗河</text></g>
<g id="t2_2797"><text x="163" y="2797">东营河</text></g>
<g id="t2_2805"><text x="163" y="2805">东营花石河</text></g>
<g id="t2_2814"><text x="163" y="2814">八家窝渠</text></g>
<g id="t2_2822"><text x="163" y="2822">三家子河</text></g>
<g id="t2_2831"><text x="163" y="2831">二道河</text></g>
<g id="t2_2852"><text x="163" y="2852">南小夜河</text></g>
<g id="t2_2860"><text x="163" y="2860">黑山河</text></g>
<g id="t2_2869"><text x="163" y="2869">大房子河</text></g>
<g id="t2_2877"><text x="163" y="2877">石人堡河</text></g>
<g id="t2_2886"><text x="163" y="2886">李祥堡河</text></g>
<g id="t2_2894"><text x="163" y="2894">转山子河</text></g>
<g id="t2_2902"><text x="163" y="2902">王树行子河</text></g>
<g id="t2_2911"><text x="163" y="2911">尖山子河</text></g>
<g id="t2_2936"><text x="163" y="2936">新开河</text></g>
<g id="t2_2945"><text x="163" y="2945">下坎子河</text></g>
<g id="t2_2953"><text x="163" y="2953">石庙子北河</text></g>
<g id="t2_2962"><text x="163" y="2962">石庙子河</text></g>
<g id="t2_2970"><text x="163" y="2970">老窝河</text></g>
<g id="t2_2983"><text x="163" y="2983">东升河</text></g>
<g id="t2_2991"><text x="163" y="2991">烧锅窝堡河</text></g>
<g id="t2_3000"><text x="163" y="3000">西旧府河</text></g>
<g id="t2_3008"><text x="163" y="3008">头道河</text></g>
<g id="t2_3038"><text x="163" y="3038">二道河</text></g>
<g id="t2_3046"><text x="163" y="3046">常屯河</text></g>
<g id="t2_3055"><text x="163" y="3055">旭河</text></g>
<g id="t2_3068"><text x="163" y="3068">小地河</text></g>
<g id="t2_3076"><text x="163" y="3076">李献堡</text></g>
<g id="t2_3084"><text x="163" y="3084">第四干渠</text></g>
<g id="t2_3093"><text x="163" y="3093">双榆河</text></g>
<g id="t2_3101"><text x="163" y="3101">李屯河</text></g>
<g id="t2_3110"><text x="163" y="3110">王庄屯河</text></g>
<g id="t2_3123"><text x="163" y="3123">地河排干</text></g>
<g id="t2_3131"><text x="163" y="3131">艾屯河</text></g>
<g id="t2_3139"><text x="163" y="3139">小车边堡河</text></g>
<g id="t2_3148"><text x="163" y="3148">古洞沟子北河</text></g>
<g id="t2_3156"><text x="163" y="3156">古洞沟子河</text></g>
<g id="t2_3165"><text x="163" y="3165">六道沟子河</text></g>
<g id="t2_3173"><text x="163" y="3173">马匠堡子河</text></g>
<g id="t2_3182"><text x="163" y="3182">松山子河</text></g>
<g id="t2_3190"><text x="163" y="3190">民屯河</text></g>
<g id="t2_3199"><text x="163" y="3199">福兴地河</text></g>
<g id="t2_3207"><text x="163" y="3207">养力沁河</text></g>
<g id="t2_3216"><text x="163" y="3216">岚力哈河</text></g>
<g id="t2_3224"><text x="163" y="3224">好力草河</text></g>
<g id="t2_3258"><text x="163" y="3258">阿哈来河</text></g>
<g id="t2_3266"><text x="163" y="3266">白音他拉河</text></g>
<g id="t2_3275"><text x="163" y="3275">马营子河</text></g>
<g id="t2_3283"><text x="163" y="3283">柔古土河</text></g>
<g id="t2_3313"><text x="163" y="3313">苏鲁沟</text></g>
<g id="t2_3321"><text x="163" y="3321">侧部沟</text></g>
<g id="t2_3330"><text x="163" y="3330">沙河子河</text></g>
<g id="t2_3338"><text x="163" y="3338">公台子河</text></g>
<g id="t2_3347"><text x="163" y="3347">大营沟</text></g>
<g id="t2_3355"><text x="163" y="3355">二台屯渠</text></g>
<g id="t2_3364"><text x="163" y="3364">木头营子河</text></g>
<g id="t2_3372"><text x="163" y="3372">鱼山楼河</text></g>
<g id="t2_3381"><text x="163" y="3381">金家河</text></g>
<g id="t2_3389"><text x="163" y="3389">六台堂河</text></g>
<g id="t2_3398"><text x="163" y="3398">白音乡河</text></g>
<g id="t3_2771"><text x="223" y="2771">广陈沟</text></g>
<g id="t3_2814"><text x="223" y="2814">东北哈气河</text></g>
<g id="t3_2826"><text x="223" y="2826">大黄家窝堡河</text></g>
<g id="t3_2835"><text x="223" y="2835">吴家窝堡河</text></g>
<g id="t3_2843"><text x="223" y="2843">小辛屯河</text></g>
<g id="t3_2852"><text x="223" y="2852">雷家窝堡河</text></g>
<g id="t3_2860"><text x="223" y="2860">苏家窝堡河</text></g>
<g id="t3_2886"><text x="223" y="2886">四家子河</text></g>
<g id="t3_2902"><text x="223" y="2902">扎兰营子沟</text></g>
<g id="t3_2911"><text x="223" y="2911">拉马章河</text></g>
<g id="t3_2919"><text x="223" y="2919">三合成河</text></g>
<g id="t3_2928"><text x="223" y="2928">大蛇山子河</text></g>
<g id="t3_2936"><text x="223" y="2936">双台子河</text></g>
<g id="t3_2945"><text x="223" y="2945">七家子河</text></g>
<g id="t3_2966"><text x="223" y="2966">魏家窝地河</text></g>
<g id="t3_2974"><text x="223" y="2974">五家子河</text></g>
<g id="t3_2983"><text x="223" y="2983">李家河</text></g>
<g id="t3_2991"><text x="223" y="2991">太平台河</text></g>
<g id="t3_3000"><text x="223" y="3000">平顶山河</text></g>
<g id="t3_3008"><text x="223" y="3008">千池水河</text></g>
<g id="t3_3017"><text x="223" y="3017">拉木花河</text></g>
<g id="t3_3025"><text x="223" y="3025">查力板北河</text></g>
<g id="t3_3034"><text x="223" y="3034">西陈家堡河</text></g>
<g id="t3_3042"><text x="223" y="3042">大陆家河</text></g>
<g id="t3_3051"><text x="223" y="3051">西地河</text></g>
<g id="t3_3059"><text x="223" y="3059">海家河</text></g>
<g id="t3_3068"><text x="223" y="3068">第一干渠</text></g>
<g id="t3_3076"><text x="223" y="3076">大王沟</text></g>
<g id="t3_3084"><text x="223" y="3084">十家子河</text></g>
<g id="t3_3093"><text x="223" y="3093">宏山梅北河</text></g>
<g id="t3_3101"><text x="223" y="3101">老边河</text></g>
<g id="t3_3110"><text x="223" y="3110">东六西河</text></g>
<g id="t3_3118"><text x="223" y="3118">南荒地河</text></g>
<g id="t3_3127"><text x="223" y="3127">老龙湾</text></g>
<g id="t3_3194"><text x="223" y="3194">东窝堡河</text></g>
<g id="t3_3203"><text x="223" y="3203">哈拉乌素河</text></g>
<g id="t3_3213"><text x="223" y="3213">锥头营子河</text></g>
<g id="t3_3220"><text x="223" y="3220">大板营子河</text></g>
<g id="t3_3228"><text x="223" y="3228">四方营河</text></g>
<g id="t3_3237"><text x="223" y="3237">南力板河</text></g>
<g id="t3_3245"><text x="223" y="3245">二江土河</text></g>
<g id="t3_3254"><text x="223" y="3254">孟家窝堡河</text></g>
<g id="t3_3262"><text x="223" y="3262">哈达河</text></g>
<g id="t3_3271"><text x="223" y="3271">后查台河</text></g>
<g id="t3_3288"><text x="223" y="3288">他卜都河</text></g>
<g id="t3_3296"><text x="223" y="3296">四家子河</text></g>
<g id="t3_3305"><text x="223" y="3305">哈力乍土河</text></g>
<g id="t3_3313"><text x="223" y="3313">八家子河</text></g>
<g id="t3_3381"><text x="223" y="3381">查力河</text></g>
<g id="t3_3398"><text x="223" y="3398">西白音乡河</text></g>
<g id="t4_2911"><text x="282" y="2911">张家窝堡河</text></g>
<g id="t4_2919"><text x="282" y="2919">南土城子河</text></g>
<g id="t4_2928"><text x="282" y="2928">獾子洞河</text></g>
<g id="t4_3110"><text x="282" y="3110">东六河</text></g>
<g id="t4_3194"><text x="282" y="3194">生宝营子河</text></g>
<g id="t4_3203"><text x="282" y="3203">西大营子河</text></g>
<g id="t4_3271"><text x="282" y="3271">前查台河</text></g>
<g id="t4_3279"><text x="282" y="3279">代海营子河</text></g>
<g id="t4_3288"><text x="282" y="3288">新邱河</text></g>
<g id="t4_3296"><text x="282" y="3296">旧南河</text></g>
<g id="t5_2924"><text x="341" y="2924">太平山河</text></g>
<g id="t5_2932"><text x="341" y="2932">四台窝堡河</text></g>

<g id="t0_3830"><text x="45" y="3830">辽河</text></g>
<g id="t1_3487"><text x="104" y="3487">小柳河</text></g>
<g id="t1_3517"><text x="104" y="3517">一统河</text></g>
<g id="t1_3525"><text x="104" y="3525">螃蟹沟</text></g>
<g id="t1_3533"><text x="104" y="3533">太平河</text></g>
<g id="t1_3834"><text x="104" y="3834">绕阳河</text></g>
<g id="t2_3462"><text x="163" y="3462">蒋家沟排水干渠</text></g>
<g id="t2_3470"><text x="163" y="3470">杨树排水干渠</text></g>
<g id="t2_3478"><text x="163" y="3478">苏家沟</text></g>
<g id="t2_3487"><text x="163" y="3487">胜利河</text></g>
<g id="t2_3495"><text x="163" y="3495">九股河</text></g>
<g id="t2_3504"><text x="163" y="3504">牛场排水干渠</text></g>
<g id="t2_3517"><text x="163" y="3517">田物阳河</text></g>
<g id="t2_3525"><text x="163" y="3525">六零河</text></g>
<g id="t2_3533"><text x="163" y="3533">花台营子河</text></g>
<g id="t2_3542"><text x="163" y="3542">太平山河</text></g>
<g id="t2_3550"><text x="163" y="3550">冷汤河</text></g>
<g id="t2_3559"><text x="163" y="3559">四家子河</text></g>
<g id="t2_3567"><text x="163" y="3567">扎兰营子河</text></g>
<g id="t2_3576"><text x="163" y="3576">他木板河</text></g>
<g id="t2_3584"><text x="163" y="3584">马尔坝河</text></g>
<g id="t2_3593"><text x="163" y="3593">永笑河</text></g>
<g id="t2_3601"><text x="163" y="3601">押京河</text></g>
<g id="t2_3635"><text x="163" y="3635">鸡鹏河</text></g>
<g id="t2_3648"><text x="163" y="3648">哈尔套河</text></g>
<g id="t2_3656"><text x="163" y="3656">南鹏河</text></g>
<g id="t2_3665"><text x="163" y="3665">二土营子河</text></g>
<g id="t2_3673"><text x="163" y="3673">梨树沟</text></g>
<g id="t2_3682"><text x="163" y="3682">邵家西沟</text></g>
<g id="t2_3694"><text x="163" y="3694">羊肠河</text></g>
<g id="t2_3783"><text x="163" y="3783">二道河</text></g>
<g id="t2_3834"><text x="163" y="3834">沙河</text></g>
<g id="t2_3842"><text x="163" y="3842">大石屯河</text></g>
<g id="t2_3851"><text x="163" y="3851">郭家屯河</text></g>
<g id="t2_3859"><text x="163" y="3859">高物排干</text></g>
<g id="t2_3881"><text x="163" y="3881">马物排干</text></g>
<g id="t2_3906"><text x="163" y="3906">杜屯排干</text></g>
<g id="t2_3931"><text x="163" y="3931">四龙湾</text></g>
<g id="t2_3940"><text x="163" y="3940">大东街河</text></g>
<g id="t2_3952"><text x="163" y="3952">东海亮排干</text></g>
<g id="t2_3961"><text x="163" y="3961">东屯排干</text></g>
<g id="t2_3969"><text x="163" y="3969">一排干</text></g>
<g id="t2_3982"><text x="163" y="3982">二排干</text></g>
<g id="t2_4016"><text x="163" y="4016">贾家排水总干</text></g>
<g id="t2_4058"><text x="163" y="4058">四排干</text></g>
<g id="t3_3495"><text x="223" y="3495">三角排水干渠</text></g>
<g id="t3_3504"><text x="223" y="3504">马伏排水干渠</text></g>
<g id="t3_3512"><text x="223" y="3512">黑坨子排水干渠</text></g>
<g id="t3_3521"><text x="223" y="3521">丁家排水</text></g>
<g id="t3_3529"><text x="223" y="3529">二台子排水干渠</text></g>
<g id="t3_3580"><text x="223" y="3580">乡冷河</text></g>
<g id="t3_3589"><text x="223" y="3589">平安地河</text></g>
<g id="t3_3605"><text x="223" y="3605">乌河湾子河</text></g>
<g id="t3_3614"><text x="223" y="3614">聊发号河</text></g>
<g id="t3_3622"><text x="223" y="3622">西大巴沟河</text></g>
<g id="t3_3631"><text x="223" y="3631">黑石营子河</text></g>
<g id="t3_3639"><text x="223" y="3639">双庙河</text></g>
<g id="t3_3648"><text x="223" y="3648">哈尔套东河</text></g>
<g id="t3_3656"><text x="223" y="3656">后苇子沟河</text></g>
<g id="t3_3665"><text x="223" y="3665">小巫闾沟</text></g>
<g id="t3_3673"><text x="223" y="3673">横力沟</text></g>
<g id="t3_3682"><text x="223" y="3682">陈家沟</text></g>
<g id="t3_3690"><text x="223" y="3690">四家子沟</text></g>
<g id="t3_3699"><text x="223" y="3699">施家南沟</text></g>
<g id="t3_3707"><text x="223" y="3707">左大马南沟</text></g>
<g id="t3_3715"><text x="223" y="3715">第一干渠</text></g>
<g id="t3_3724"><text x="223" y="3724">马家河</text></g>
<g id="t3_3732"><text x="223" y="3732">哈哈田南沟</text></g>
<g id="t3_3741"><text x="223" y="3741">周家房河</text></g>
<g id="t3_3749"><text x="223" y="3749">江四营子河</text></g>
<g id="t3_3758"><text x="223" y="3758">广民河</text></g>
<g id="t3_3766"><text x="223" y="3766">沙力根河</text></g>
<g id="t3_3775"><text x="223" y="3775">二家子河</text></g>
<g id="t3_3783"><text x="223" y="3783">招束沟河</text></g>
<g id="t3_3792"><text x="223" y="3792">兴隆洼河</text></g>
<g id="t3_3800"><text x="223" y="3800">二道河子河</text></g>
<g id="t3_3809"><text x="223" y="3809">杨花河</text></g>
<g id="t3_3817"><text x="223" y="3817">苏金河</text></g>
<g id="t3_3826"><text x="223" y="3826">大固本河</text></g>
<g id="t3_3834"><text x="223" y="3834">沙河排干</text></g>
<g id="t3_3851"><text x="223" y="3851">二道湾</text></g>
<g id="t3_3859"><text x="223" y="3859">左家西沟</text></g>
<g id="t3_3868"><text x="223" y="3868">二道湾</text></g>
<g id="t3_3876"><text x="223" y="3876">北四家子河</text></g>
<g id="t3_3885"><text x="223" y="3885">红岭河</text></g>
<g id="t3_3893"><text x="223" y="3893">魏岗河</text></g>
<g id="t3_3902"><text x="223" y="3902">福家窝堡河</text></g>
<g id="t3_3910"><text x="223" y="3910">卢屯河</text></g>
<g id="t3_3919"><text x="223" y="3919">黄岳子河</text></g>
<g id="t3_3927"><text x="223" y="3927">小朱屯河</text></g>
<g id="t3_3936"><text x="223" y="3936">曹家屯河</text></g>
<g id="t3_3944"><text x="223" y="3944">沙岗子河</text></g>
<g id="t3_3952"><text x="223" y="3952">村物排干</text></g>
<g id="t3_3961"><text x="223" y="3961">双水柱排干</text></g>
<g id="t3_3969"><text x="223" y="3969">秦物排干</text></g>
<g id="t3_3978"><text x="223" y="3978">莲花泡</text></g>
<g id="t3_3986"><text x="223" y="3986">二排干</text></g>
<g id="t3_3995"><text x="223" y="3995">东干沟子河</text></g>
<g id="t3_4003"><text x="223" y="4003">夏屯机排干</text></g>
<g id="t3_4012"><text x="223" y="4012">拉拉河</text></g>
<g id="t3_4020"><text x="223" y="4020">于洲机排干</text></g>
<g id="t3_4029"><text x="223" y="4029">十一排干</text></g>
<g id="t3_4037"><text x="223" y="4037">十排干</text></g>
<g id="t3_4046"><text x="223" y="4046">孙家河</text></g>
<g id="t3_4054"><text x="223" y="4054">孟小河</text></g>
<g id="t3_4063"><text x="223" y="4063">六间房河</text></g>
<g id="t3_4071"><text x="223" y="4071">陈家街河</text></g>
<g id="t4_3584"><text x="282" y="3584">平安地河西支</text></g>
<g id="t4_3593"><text x="282" y="3593">北押京河</text></g>
<g id="t4_3601"><text x="282" y="3601">东乌河湾子河</text></g>
<g id="t4_3610"><text x="282" y="3610">下沟子河</text></g>
<g id="t4_3775"><text x="282" y="3775">双城子河</text></g>
<g id="t4_3783"><text x="282" y="3783">樱桃沟</text></g>
<g id="t4_3809"><text x="282" y="3809">助力戈尺河</text></g>
<g id="t4_3826"><text x="282" y="3826">米拉尺河</text></g>
<g id="t4_4012"><text x="282" y="4012">丁家机排干</text></g>

<g id="t0_4497"><text x="45" y="4497">辽河</text></g>
<g id="t1_4430"><text x="104" y="4430">饶阳河</text></g>
<g id="t1_4437"><text x="104" y="4437">清水河排干</text></g>
<g id="t1_4728"><text x="104" y="4728">赵圈河排干</text></g>
<g id="t1_4736"><text x="104" y="4736">潮沟河</text></g>
<g id="t1_4743"><text x="104" y="4743">下鱼沟</text></g>
<g id="t1_4750"><text x="104" y="4750">湖营行排干</text></g>
<g id="t1_4757"><text x="104" y="4757">凝江沟</text></g>
<g id="t1_4765"><text x="104" y="4765">西塘河</text></g>
<g id="t1_4772"><text x="104" y="4772">女儿沟</text></g>
<g id="t1_4779"><text x="104" y="4779">双井子河</text></g>
<g id="t1_4785"><text x="104" y="4785">蒙关河</text></g>
<g id="t1_4792"><text x="104" y="4792">绕河</text></g>
<g id="t2_4262"><text x="163" y="4262">东沙河</text></g>
<g id="t2_4395"><text x="163" y="4395">辽物站河总干</text></g>
<g id="t2_4403"><text x="163" y="4403">前屯排水干渠</text></g>
<g id="t2_4429"><text x="163" y="4429">西家河</text></g>
<g id="t2_4482"><text x="163" y="4482">羊肠河</text></g>
<g id="t2_4490"><text x="163" y="4490">王屯屯干渠</text></g>
<g id="t2_4578"><text x="163" y="4578">西沙河</text></g>
<g id="t2_4680"><text x="163" y="4680">月牙河</text></g>
<g id="t2_4718"><text x="163" y="4718">丰屯河</text></g>
<g id="t2_4728"><text x="163" y="4728">五龙河</text></g>
<g id="t2_4736"><text x="163" y="4736">南铝沟子河</text></g>
<g id="t2_4750"><text x="163" y="4750">西海河</text></g>
<g id="t2_4792"><text x="163" y="4792">新三干排水渠</text></g>
<g id="t3_4146"><text x="223" y="4146">七家子河</text></g>
<g id="t3_4153"><text x="223" y="4153">申德营子河</text></g>
<g id="t3_4161"><text x="223" y="4161">沙拉乌素河</text></g>
<g id="t3_4170"><text x="223" y="4170">德胜河</text></g>
<g id="t3_4177"><text x="223" y="4177">兵山河</text></g>
<g id="t3_4185"><text x="223" y="4185">诺日营子河</text></g>
<g id="t3_4193"><text x="223" y="4193">东胡阳河</text></g>
<g id="t3_4201"><text x="223" y="4201">元宝洼河</text></g>
<g id="t3_4208"><text x="223" y="4208">前河套河</text></g>
<g id="t3_4216"><text x="223" y="4216">黄台河</text></g>
<g id="t3_4223"><text x="223" y="4223">壹土河</text></g>
<g id="t3_4253"><text x="223" y="4253">八宝海河</text></g>
<g id="t3_4291"><text x="223" y="4291">金沙河</text></g>
<g id="t3_4308"><text x="223" y="4308">泰任河</text></g>
<g id="t3_4325"><text x="223" y="4325">羊乃河</text></g>
<g id="t3_4355"><text x="223" y="4355">朝阳寺河</text></g>
<g id="t3_4362"><text x="223" y="4362">老边河</text></g>
<g id="t3_4370"><text x="223" y="4370">二道河排干</text></g>
<g id="t3_4378"><text x="223" y="4378">二排干</text></g>
<g id="t3_4386"><text x="223" y="4386">长沟江</text></g>
<g id="t3_4395"><text x="223" y="4395">小潮河</text></g>
<g id="t3_4403"><text x="223" y="4403">宋家排水干渠</text></g>
<g id="t3_4412"><text x="223" y="4412">小桑林子排水干渠</text></g>
<g id="t3_4420"><text x="223" y="4420">新开河</text></g>
<g id="t3_4429"><text x="223" y="4429">连城河</text></g>
<g id="t3_4437"><text x="223" y="4437">穆头沟河</text></g>
<g id="t3_4444"><text x="223" y="4444">乡木土沟</text></g>
<g id="t3_4452"><text x="223" y="4452">富丰河</text></g>
<g id="t3_4461"><text x="223" y="4461">石家沟河</text></g>
<g id="t3_4469"><text x="223" y="4469">江台河</text></g>
<g id="t3_4478"><text x="223" y="4478">东拉河</text></g>
<g id="t3_4486"><text x="223" y="4486">八道壕河</text></g>
<g id="t3_4503"><text x="223" y="4503">白厂门河</text></g>
<g id="t3_4511"><text x="223" y="4511">穆头沟排干</text></g>
<g id="t3_4520"><text x="223" y="4520">吴家河</text></g>
<g id="t3_4527"><text x="223" y="4527">东沟河</text></g>
<g id="t3_4536"><text x="223" y="4536">华山河</text></g>
<g id="t3_4544"><text x="223" y="4544">石佛寺河</text></g>
<g id="t3_4553"><text x="223" y="4553">树林子河</text></g>
<g id="t3_4561"><text x="223" y="4561">安家河</text></g>
<g id="t3_4570"><text x="223" y="4570">赵家河</text></g>
<g id="t3_4578"><text x="223" y="4578">前腰台河</text></g>
<g id="t3_4587"><text x="223" y="4587">清河</text></g>
<g id="t3_4595"><text x="223" y="4595">古沟河</text></g>
<g id="t3_4604"><text x="223" y="4604">黑鱼河</text></g>
<g id="t3_4612"><text x="223" y="4612">黑鱼沟河</text></g>
<g id="t3_4638"><text x="223" y="4638">鸭子河</text></g>
<g id="t3_4663"><text x="223" y="4663">红旗河</text></g>
<g id="t3_4671"><text x="223" y="4671">新民河</text></g>
<g id="t3_4680"><text x="223" y="4680">闫家沟河</text></g>
<g id="t3_4688"><text x="223" y="4688">大羊河</text></g>
<g id="t3_4701"><text x="223" y="4701">韩鹿河</text></g>
<g id="t3_4709"><text x="223" y="4709">李家街河</text></g>
<g id="t3_4718"><text x="223" y="4718">新开河</text></g>
<g id="t3_4726"><text x="223" y="4726">六六排干</text></g>
<g id="t3_4736"><text x="223" y="4736">小道子河</text></g>
<g id="t4_4185"><text x="282" y="4185">东新沟</text></g>
<g id="t4_4223"><text x="282" y="4223">王家洼子河</text></g>
<g id="t4_4232"><text x="282" y="4232">韩大营子河</text></g>
<g id="t4_4240"><text x="282" y="4240">王大河</text></g>
<g id="t4_4249"><text x="282" y="4249">塔山河</text></g>
<g id="t4_4257"><text x="282" y="4257">那木土沟</text></g>
<g id="t4_4266"><text x="282" y="4266">五台子河</text></g>
<g id="t4_4274"><text x="282" y="4274">于家河</text></g>
<g id="t4_4283"><text x="282" y="4283">宗家荒河</text></g>
<g id="t4_4291"><text x="282" y="4291">车家屯河</text></g>
<g id="t4_4300"><text x="282" y="4300">明家荒河</text></g>
<g id="t4_4308"><text x="282" y="4308">大道沟子河</text></g>
<g id="t4_4321"><text x="282" y="4321">旺石河</text></g>
<g id="t4_4329"><text x="282" y="4329">小潮河</text></g>
<g id="t4_4338"><text x="282" y="4338">五家子河</text></g>
<g id="t4_4350"><text x="282" y="4350">秋两家子河</text></g>
<g id="t4_4359"><text x="282" y="4359">巴力房河</text></g>
<g id="t4_4367"><text x="282" y="4367">塞边河</text></g>
<g id="t4_4376"><text x="282" y="4376">腰都林河</text></g>
<g id="t4_4486"><text x="282" y="4486">腰屯河</text></g>
<g id="t4_4495"><text x="282" y="4495">西家子河</text></g>
<g id="t4_4503"><text x="282" y="4503">沈屯河</text></g>
<g id="t4_4511"><text x="282" y="4511">堡子河</text></g>
<g id="t4_4574"><text x="282" y="4574">于台河</text></g>
<g id="t4_4582"><text x="282" y="4582">宋台河</text></g>
<g id="t4_4608"><text x="282" y="4608">东巴河</text></g>
<g id="t4_4616"><text x="282" y="4616">广宁河</text></g>
<g id="t4_4625"><text x="282" y="4625">双上河</text></g>
<g id="t4_4633"><text x="282" y="4633">鲍家河</text></g>
<g id="t4_4642"><text x="282" y="4642">南兴河</text></g>
<g id="t4_4654"><text x="282" y="4654">贺家沟</text></g>
<g id="t4_4663"><text x="282" y="4663">王二台河</text></g>
<g id="t4_4684"><text x="282" y="4684">西方台河</text></g>
<g id="t4_4693"><text x="282" y="4693">谷屯河</text></g>
<g id="t4_4701"><text x="282" y="4701">庄屯河</text></g>
<g id="t5_4232"><text x="341" y="4232">好不代河</text></g>
<g id="t5_4304"><text x="341" y="4304">代民屯排干</text></g>
<g id="t5_4312"><text x="341" y="4312">石狮子排干</text></g>
<g id="t5_4321"><text x="341" y="4321">芳山河</text></g>
<g id="t5_4338"><text x="341" y="4338">薛道河</text></g>
<g id="t5_4346"><text x="341" y="4346">西大沟</text></g>
<g id="t5_4355"><text x="341" y="4355">哈什宝河</text></g>
<g id="t5_4604"><text x="341" y="4604">宫屯河</text></g>
<g id="t5_4612"><text x="341" y="4612">二道河</text></g>
<g id="t5_4621"><text x="341" y="4621">前屯河</text></g>
<g id="t5_4629"><text x="341" y="4629">鹏窝河</text></g>
<g id="t5_4638"><text x="341" y="4638">郭二家子河</text></g>
<g id="t5_4646"><text x="341" y="4646">河北河</text></g>
<g id="t5_4654"><text x="341" y="4654">督促河</text></g>
<g id="t5_4693"><text x="341" y="4693">四大子河</text></g>
</g>
</g>
</svg>
